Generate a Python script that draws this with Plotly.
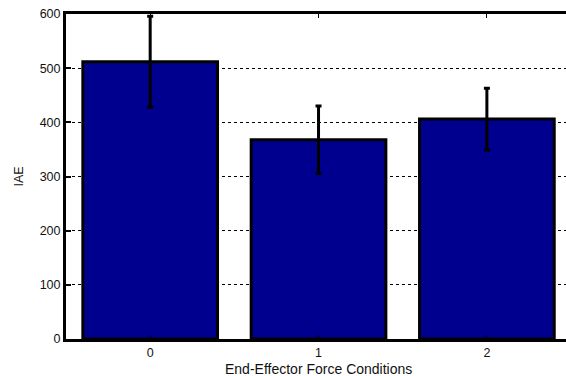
import plotly.graph_objects as go

categories = [0, 1, 2]
iae_mean = [512, 368, 406]
iae_err = [84, 62, 57]
y_ticks = [0, 100, 200, 300, 400, 500, 600]

fig = go.Figure()
fig.add_trace(go.Bar(
    x=categories, y=iae_mean, width=0.8,
    marker=dict(color="#00008F", line=dict(color="black", width=3)),
    error_y=dict(type="data", array=iae_err, visible=True,
                 color="black", thickness=3, width=3),
))

font = dict(family="Liberation Sans, Arial, sans-serif", size=12.5, color="#111")
title_font = dict(family="Liberation Sans, Arial, sans-serif", size=14, color="#111")

fig.update_layout(
    width=566, height=376,
    margin=dict(l=66, r=0, t=14, b=37),
    plot_bgcolor="white", paper_bgcolor="white",
    showlegend=False, font=font,
    xaxis=dict(range=[-0.5, 2.47], tickvals=categories,
               ticktext=[str(c) for c in categories],
               showline=True, linecolor="black", linewidth=3,
               mirror="ticks", ticks="inside", ticklen=4, tickwidth=1,
               tickcolor="black", showgrid=False, zeroline=False,
               tickfont=font),
    yaxis=dict(range=[0, 600], tickvals=y_ticks,
               showline=True, linecolor="black", linewidth=3,
               ticks="inside", ticklen=5, tickwidth=2, tickcolor="black",
               showgrid=True, gridcolor="black", gridwidth=1,
               griddash="dot", zeroline=False, tickfont=font),
    annotations=[
        dict(text="End-Effector Force Conditions", x=1, xref="x",
             y=-0.092, yref="paper", yanchor="middle", showarrow=False,
             font=title_font),
        dict(text="IAE", x=-(66 - 18) / 500.0, xref="paper", xanchor="center",
             y=0.5, yref="paper", showarrow=False, textangle=-90,
             font=font),
    ],
)
fig.write_html("out.html", config={"displayModeBar": False},
               post_script="document.body.style.margin='0';document.body.style.overflow='hidden';")
